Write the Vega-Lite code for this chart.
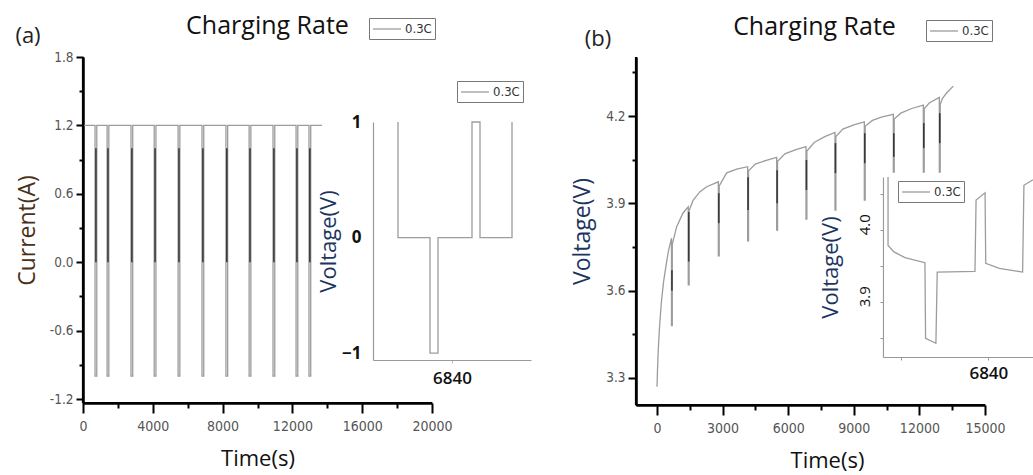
{
  "$schema": "https://vega.github.io/schema/vega-lite/v6.json",
  "width": 1033,
  "height": 475,
  "autosize": {"type": "none"},
  "padding": 0,
  "background": "white",
  "config": {
    "view": {"stroke": null},
    "axis": {"grid": false, "labelFlush": false, "labelOverlap": false, "domainCap": "butt", "domainColor": "#000000", "domainWidth": 2.5, "tickColor": "#000000", "tickWidth": 2},
    "legend": {"symbolType": "M-1,0H3", "symbolStrokeWidth": 1.3, "symbolSize": 196, "labelFont": "Liberation Sans Narrow, Arial Narrow, DejaVu Sans Condensed, sans-serif", "labelFontSize": 13, "labelColor": "#333", "labelOffset": 17, "padding": 3, "strokeColor": "#777", "fillColor": "#fff", "cornerRadius": 0, "title": null}
  },
  "datasets": {
    "aMain": [
      {"k": 0, "t": 0, "i": 1.2},
      {"k": 1, "t": 690, "i": 1.2}, {"k": 2, "t": 690, "i": -1.0}, {"k": 3, "t": 790, "i": -1.0}, {"k": 4, "t": 790, "i": 1.2},
      {"k": 5, "t": 1380, "i": 1.2}, {"k": 6, "t": 1380, "i": -1.0}, {"k": 7, "t": 1480, "i": -1.0}, {"k": 8, "t": 1480, "i": 1.2},
      {"k": 9, "t": 2750, "i": 1.2}, {"k": 10, "t": 2750, "i": -1.0}, {"k": 11, "t": 2850, "i": -1.0}, {"k": 12, "t": 2850, "i": 1.2},
      {"k": 13, "t": 4080, "i": 1.2}, {"k": 14, "t": 4080, "i": -1.0}, {"k": 15, "t": 4180, "i": -1.0}, {"k": 16, "t": 4180, "i": 1.2},
      {"k": 17, "t": 5450, "i": 1.2}, {"k": 18, "t": 5450, "i": -1.0}, {"k": 19, "t": 5550, "i": -1.0}, {"k": 20, "t": 5550, "i": 1.2},
      {"k": 21, "t": 6820, "i": 1.2}, {"k": 22, "t": 6820, "i": -1.0}, {"k": 23, "t": 6920, "i": -1.0}, {"k": 24, "t": 6920, "i": 1.2},
      {"k": 25, "t": 8190, "i": 1.2}, {"k": 26, "t": 8190, "i": -1.0}, {"k": 27, "t": 8290, "i": -1.0}, {"k": 28, "t": 8290, "i": 1.2},
      {"k": 29, "t": 9520, "i": 1.2}, {"k": 30, "t": 9520, "i": -1.0}, {"k": 31, "t": 9620, "i": -1.0}, {"k": 32, "t": 9620, "i": 1.2},
      {"k": 33, "t": 10890, "i": 1.2}, {"k": 34, "t": 10890, "i": -1.0}, {"k": 35, "t": 10990, "i": -1.0}, {"k": 36, "t": 10990, "i": 1.2},
      {"k": 37, "t": 12210, "i": 1.2}, {"k": 38, "t": 12210, "i": -1.0}, {"k": 39, "t": 12310, "i": -1.0}, {"k": 40, "t": 12310, "i": 1.2},
      {"k": 41, "t": 12950, "i": 1.2}, {"k": 42, "t": 12950, "i": -1.0}, {"k": 43, "t": 13050, "i": -1.0}, {"k": 44, "t": 13050, "i": 1.2},
      {"k": 45, "t": 13700, "i": 1.2}
    ],
    "aDark": [
      {"t": 740, "lo": 0, "hi": 1.0}, {"t": 1430, "lo": 0, "hi": 1.0}, {"t": 2800, "lo": 0, "hi": 1.0},
      {"t": 4130, "lo": 0, "hi": 1.0}, {"t": 5500, "lo": 0, "hi": 1.0}, {"t": 6870, "lo": 0, "hi": 1.0},
      {"t": 8240, "lo": 0, "hi": 1.0}, {"t": 9570, "lo": 0, "hi": 1.0}, {"t": 10940, "lo": 0, "hi": 1.0},
      {"t": 12260, "lo": 0, "hi": 1.0}, {"t": 13000, "lo": 0, "hi": 1.0}
    ],
    "aInset": [
      {"k": 0, "t": 6570, "v": 1}, {"k": 1, "t": 6570, "v": 0}, {"k": 2, "t": 6730, "v": 0}, {"k": 3, "t": 6730, "v": -1},
      {"k": 4, "t": 6770, "v": -1}, {"k": 5, "t": 6770, "v": 0}, {"k": 6, "t": 6940, "v": 0}, {"k": 7, "t": 6940, "v": 1},
      {"k": 8, "t": 6980, "v": 1}, {"k": 9, "t": 6980, "v": 0}, {"k": 10, "t": 7140, "v": 0}, {"k": 11, "t": 7140, "v": 1}
    ],
    "bMain": [
      {"k": 0, "t": 0, "v": 3.27}, {"k": 1, "t": 20, "v": 3.32}, {"k": 2, "t": 60, "v": 3.40}, {"k": 3, "t": 120, "v": 3.48},
      {"k": 4, "t": 200, "v": 3.56}, {"k": 5, "t": 300, "v": 3.63}, {"k": 6, "t": 400, "v": 3.68}, {"k": 7, "t": 520, "v": 3.735},
      {"k": 8, "t": 663, "v": 3.78}, {"k": 9, "t": 663, "v": 3.48}, {"k": 10, "t": 700, "v": 3.48}, {"k": 11, "t": 700, "v": 3.76},
      {"k": 12, "t": 900, "v": 3.82}, {"k": 13, "t": 1190, "v": 3.867}, {"k": 14, "t": 1430, "v": 3.888},
      {"k": 15, "t": 1430, "v": 3.62}, {"k": 16, "t": 1470, "v": 3.62}, {"k": 17, "t": 1470, "v": 3.875},
      {"k": 18, "t": 1650, "v": 3.91}, {"k": 19, "t": 1966, "v": 3.94}, {"k": 20, "t": 2272, "v": 3.957}, {"k": 21, "t": 2805, "v": 3.974},
      {"k": 22, "t": 2805, "v": 3.72}, {"k": 23, "t": 2845, "v": 3.72}, {"k": 24, "t": 2845, "v": 3.96},
      {"k": 25, "t": 3186, "v": 4.005}, {"k": 26, "t": 3643, "v": 4.018}, {"k": 27, "t": 4146, "v": 4.026},
      {"k": 28, "t": 4146, "v": 3.771}, {"k": 29, "t": 4186, "v": 3.771}, {"k": 30, "t": 4186, "v": 4.012},
      {"k": 31, "t": 4500, "v": 4.035}, {"k": 32, "t": 5000, "v": 4.048}, {"k": 33, "t": 5473, "v": 4.058},
      {"k": 34, "t": 5473, "v": 3.808}, {"k": 35, "t": 5513, "v": 3.808}, {"k": 36, "t": 5513, "v": 4.045},
      {"k": 37, "t": 5850, "v": 4.07}, {"k": 38, "t": 6350, "v": 4.085}, {"k": 39, "t": 6814, "v": 4.095},
      {"k": 40, "t": 6814, "v": 3.846}, {"k": 41, "t": 6854, "v": 3.846}, {"k": 42, "t": 6854, "v": 4.08},
      {"k": 43, "t": 7200, "v": 4.11}, {"k": 44, "t": 7700, "v": 4.13}, {"k": 45, "t": 8140, "v": 4.144},
      {"k": 46, "t": 8140, "v": 3.877}, {"k": 47, "t": 8180, "v": 3.877}, {"k": 48, "t": 8180, "v": 4.13},
      {"k": 49, "t": 8500, "v": 4.155}, {"k": 50, "t": 9000, "v": 4.17}, {"k": 51, "t": 9481, "v": 4.18},
      {"k": 52, "t": 9481, "v": 3.911}, {"k": 53, "t": 9521, "v": 3.911}, {"k": 54, "t": 9521, "v": 4.165},
      {"k": 55, "t": 9850, "v": 4.185}, {"k": 56, "t": 10300, "v": 4.197}, {"k": 57, "t": 10808, "v": 4.206},
      {"k": 58, "t": 10808, "v": 3.96}, {"k": 59, "t": 10848, "v": 3.96}, {"k": 60, "t": 10848, "v": 4.19},
      {"k": 61, "t": 11150, "v": 4.21}, {"k": 62, "t": 11650, "v": 4.226}, {"k": 63, "t": 12180, "v": 4.238},
      {"k": 64, "t": 12180, "v": 3.96}, {"k": 65, "t": 12220, "v": 3.96}, {"k": 66, "t": 12220, "v": 4.225},
      {"k": 67, "t": 12450, "v": 4.245}, {"k": 68, "t": 12911, "v": 4.264},
      {"k": 69, "t": 12911, "v": 3.96}, {"k": 70, "t": 12951, "v": 3.96}, {"k": 71, "t": 12951, "v": 4.24},
      {"k": 72, "t": 13050, "v": 4.26}, {"k": 73, "t": 13250, "v": 4.28}, {"k": 74, "t": 13550, "v": 4.303}
    ],
    "bDark": [
      {"t": 683, "lo": 3.60, "hi": 3.67}, {"t": 1450, "lo": 3.70, "hi": 3.87}, {"t": 2825, "lo": 3.832, "hi": 3.935},
      {"t": 4166, "lo": 3.877, "hi": 3.99}, {"t": 5493, "lo": 3.90, "hi": 4.014}, {"t": 6834, "lo": 3.946, "hi": 4.049},
      {"t": 8160, "lo": 4.004, "hi": 4.107}, {"t": 9501, "lo": 4.038, "hi": 4.141}, {"t": 10828, "lo": 4.06, "hi": 4.141},
      {"t": 12200, "lo": 4.09, "hi": 4.176}, {"t": 12931, "lo": 4.107, "hi": 4.21}
    ],
    "bInset": [
      {"k": 0, "t": 6794.3, "v": 4.074}, {"k": 1, "t": 6794.3, "v": 3.979}, {"k": 2, "t": 6797, "v": 3.97},
      {"k": 3, "t": 6802, "v": 3.962}, {"k": 4, "t": 6811.1, "v": 3.955}, {"k": 5, "t": 6811.4, "v": 3.85},
      {"k": 6, "t": 6816.1, "v": 3.843}, {"k": 7, "t": 6816.7, "v": 3.942}, {"k": 8, "t": 6833.9, "v": 3.943},
      {"k": 9, "t": 6834.4, "v": 4.042}, {"k": 10, "t": 6838.5, "v": 4.052}, {"k": 11, "t": 6838.8, "v": 3.954},
      {"k": 12, "t": 6845, "v": 3.947}, {"k": 13, "t": 6855.6, "v": 3.942}, {"k": 14, "t": 6856.2, "v": 4.0625},
      {"k": 15, "t": 6860.3, "v": 4.07}
    ]
  },
  "resolve": {
    "scale": {"x": "independent", "y": "independent", "color": "independent"},
    "axis": {"x": "independent", "y": "independent"},
    "legend": {"color": "independent"}
  },
  "layer": [
    {
      "data": {"name": "aMain"},
      "mark": {"type": "line", "strokeWidth": 1.3},
      "encoding": {
        "x": {"field": "t", "type": "quantitative",
          "scale": {"domain": [0, 20000], "range": [83, 432], "nice": false, "zero": false},
          "axis": {"orient": "bottom", "offset": -72, "values": [0, 2000, 4000, 6000, 8000, 10000, 12000, 14000, 16000, 18000, 20000], "format": "d",
            "labelExpr": "datum.value % 4000 === 0 ? datum.label : ''",
            "tickSize": {"condition": {"test": "datum.value % 4000 === 0", "value": 10}, "value": 5},
            "domainColor": "#000000", "domainWidth": 2.5, "tickColor": "#000000", "tickWidth": 2,
            "labelFont": "Liberation Sans Narrow, Arial Narrow, DejaVu Sans Condensed, sans-serif", "labelFontSize": 14, "labelColor": "#555", "labelPadding": 6,
            "title": "Time(s)", "titleFont": "Open Sans, Noto Sans, sans-serif", "titleFontSize": 22, "titleFontWeight": "normal", "titleColor": "#111", "titlePadding": 15}},
        "y": {"field": "i", "type": "quantitative",
          "scale": {"domain": [-1.235, 1.8], "range": [403, 57], "nice": false, "zero": false},
          "axis": {"orient": "left", "offset": -83, "values": [-1.2, -0.9, -0.6, -0.3, 0, 0.3, 0.6, 0.9, 1.2, 1.5, 1.8],
            "labelExpr": "round(datum.value*10) % 6 === 0 ? (datum.value < 0 ? '-' : '') + format(abs(datum.value), '.1f') : ''",
            "tickSize": {"condition": {"test": "round(datum.value*10) % 6 === 0", "value": 7}, "value": 4},
            "domainColor": "#000000", "domainWidth": 2.5, "tickColor": "#000000", "tickWidth": 2,
            "labelFont": "Liberation Sans Narrow, Arial Narrow, DejaVu Sans Condensed, sans-serif", "labelFontSize": 13.5, "labelColor": "#555", "labelPadding": 3,
            "title": "Current(A)", "titleFont": "Open Sans, Noto Sans, sans-serif", "titleFontSize": 23, "titleFontWeight": "normal", "titleColor": "#4a3018", "titlePadding": 10}},
        "order": {"field": "k", "type": "quantitative"},
        "color": {"datum": "0.3C", "type": "nominal", "scale": {"range": ["#9c9c9c"]},
          "legend": {"orient": "none", "legendX": 369, "legendY": 18, "title": null}}
      }
    },
    {
      "data": {"name": "aDark"},
      "mark": {"type": "rule", "color": "#3a3a3a", "strokeWidth": 1.6},
      "encoding": {
        "x": {"field": "t", "type": "quantitative", "scale": {"domain": [0, 20000], "range": [83, 432], "nice": false, "zero": false}, "axis": null},
        "y": {"field": "lo", "type": "quantitative", "scale": {"domain": [-1.235, 1.8], "range": [403, 57], "nice": false, "zero": false}, "axis": null},
        "y2": {"field": "hi"}
      }
    },
    {
      "data": {"values": [{"line": "x axis (a)"}]},
      "mark": {"type": "rule", "color": "#000000", "strokeWidth": 2.2},
      "encoding": {
        "x": {"datum": 0, "type": "quantitative", "scale": {"domain": [0, 20000], "range": [83, 432], "nice": false, "zero": false}, "axis": null},
        "x2": {"datum": 20000},
        "y": {"datum": -1.235, "type": "quantitative", "scale": {"domain": [-1.235, 1.8], "range": [403, 57], "nice": false, "zero": false}, "axis": null}
      }
    },
    {
      "data": {"values": [{"line": "y axis (a)"}]},
      "mark": {"type": "rule", "color": "#000000", "strokeWidth": 2.2},
      "encoding": {
        "x": {"datum": 0, "type": "quantitative", "scale": {"domain": [0, 20000], "range": [83, 432], "nice": false, "zero": false}, "axis": null},
        "y": {"datum": -1.235, "type": "quantitative", "scale": {"domain": [-1.235, 1.8], "range": [403, 57], "nice": false, "zero": false}, "axis": null},
        "y2": {"datum": 1.8}
      }
    },
    {
      "data": {"values": [{"label": "(a)"}]},
      "mark": {"type": "text", "font": "Open Sans, Noto Sans, sans-serif", "fontSize": 22, "color": "#222", "align": "center", "baseline": "alphabetic"},
      "encoding": {
        "x": {"datum": -3152, "type": "quantitative", "scale": {"domain": [0, 20000], "range": [83, 432], "nice": false, "zero": false}, "axis": null},
        "y": {"datum": 1.92, "type": "quantitative", "scale": {"domain": [-1.235, 1.8], "range": [403, 57], "nice": false, "zero": false}, "axis": null},
        "text": {"field": "label"}
      }
    },
    {
      "data": {"values": [{"label": "Charging Rate"}]},
      "mark": {"type": "text", "font": "Open Sans, Noto Sans, sans-serif", "fontSize": 25, "color": "#111", "align": "center", "baseline": "alphabetic"},
      "encoding": {
        "x": {"datum": 10573, "type": "quantitative", "scale": {"domain": [0, 20000], "range": [83, 432], "nice": false, "zero": false}, "axis": null},
        "y": {"datum": 2.0, "type": "quantitative", "scale": {"domain": [-1.235, 1.8], "range": [403, 57], "nice": false, "zero": false}, "axis": null},
        "text": {"field": "label"}
      }
    },
    {
      "data": {"name": "aInset"},
      "mark": {"type": "line", "strokeWidth": 1.3},
      "encoding": {
        "x": {"field": "t", "type": "quantitative",
          "scale": {"domain": [6445, 7235], "range": [373, 531], "nice": false, "zero": false},
          "axis": {"orient": "bottom", "offset": -115, "values": [6840], "format": "d", "tickSize": 3, "tickColor": "#bbbbbb", "tickWidth": 1,
            "domainColor": "#999999", "domainWidth": 1.2,
            "labelFont": "Open Sans, Noto Sans, sans-serif", "labelFontSize": 17, "labelFontWeight": 600, "labelColor": "#111", "labelPadding": 7,
            "title": null}},
        "y": {"field": "v", "type": "quantitative",
          "scale": {"domain": [-1.06, 1], "range": [360, 122], "nice": false, "zero": false},
          "axis": {"orient": "left", "offset": -373, "values": [-1, 0, 1], "labelExpr": "datum.value > 0.5 ? '1' : (datum.value < -0.5 ? '\u22121' : '0')", "tickSize": 0, "tickWidth": 1, "tickColor": "#999999",
            "domainColor": "#999999", "domainWidth": 1.2,
            "labelFont": "Open Sans, Noto Sans, sans-serif", "labelFontSize": 17, "labelFontWeight": 700, "labelColor": "#111", "labelPadding": 12,
            "title": "Voltage(V)", "titleFont": "Open Sans, Noto Sans, sans-serif", "titleFontSize": 22, "titleFontWeight": "normal", "titleColor": "#1c3560", "titlePadding": 1}},
        "order": {"field": "k", "type": "quantitative"},
        "color": {"datum": "0.3C", "type": "nominal", "scale": {"range": ["#9c9c9c"]},
          "legend": {"orient": "none", "legendX": 457, "legendY": 81, "title": null}}
      }
    },
    {
      "data": {"name": "bMain"},
      "mark": {"type": "line", "strokeWidth": 1.3},
      "encoding": {
        "x": {"field": "t", "type": "quantitative",
          "scale": {"domain": [-960, 15000], "range": [636, 985], "nice": false, "zero": false},
          "axis": {"orient": "bottom", "offset": -70, "values": [0, 1500, 3000, 4500, 6000, 7500, 9000, 10500, 12000, 13500, 15000], "format": "d",
            "labelExpr": "datum.value % 3000 === 0 ? datum.label : ''",
            "tickSize": {"condition": {"test": "datum.value % 3000 === 0", "value": 10}, "value": 5},
            "domainColor": "#000000", "domainWidth": 2.5, "tickColor": "#000000", "tickWidth": 2,
            "labelFont": "Liberation Sans Narrow, Arial Narrow, DejaVu Sans Condensed, sans-serif", "labelFontSize": 14, "labelColor": "#555", "labelPadding": 6,
            "title": "Time(s)", "titleX": 827, "titleFont": "Open Sans, Noto Sans, sans-serif", "titleFontSize": 22, "titleFontWeight": "normal", "titleColor": "#111", "titlePadding": 15}},
        "y": {"field": "v", "type": "quantitative",
          "scale": {"domain": [3.207, 4.403], "range": [405, 57], "nice": false, "zero": false},
          "axis": {"orient": "left", "offset": -636, "values": [3.3, 3.45, 3.6, 3.75, 3.9, 4.05, 4.2, 4.35],
            "labelExpr": "round(datum.value*100) % 30 === 0 ? format(datum.value, '.1f') : ''",
            "tickSize": {"condition": {"test": "round(datum.value*100) % 30 === 0", "value": 8}, "value": 4},
            "domainColor": "#000000", "domainWidth": 2.5, "tickColor": "#000000", "tickWidth": 2,
            "labelFont": "Liberation Sans Narrow, Arial Narrow, DejaVu Sans Condensed, sans-serif", "labelFontSize": 13.5, "labelColor": "#555", "labelPadding": 3,
            "title": "Voltage(V)", "titleFont": "Open Sans, Noto Sans, sans-serif", "titleFontSize": 23, "titleFontWeight": "normal", "titleColor": "#1c3560", "titlePadding": 11}},
        "order": {"field": "k", "type": "quantitative"},
        "color": {"datum": "0.3C", "type": "nominal", "scale": {"range": ["#9c9c9c"]},
          "legend": {"orient": "none", "legendX": 926, "legendY": 20, "title": null}}
      }
    },
    {
      "data": {"name": "bDark"},
      "mark": {"type": "rule", "color": "#3a3a3a", "strokeWidth": 1.6},
      "encoding": {
        "x": {"field": "t", "type": "quantitative", "scale": {"domain": [-960, 15000], "range": [636, 985], "nice": false, "zero": false}, "axis": null},
        "y": {"field": "lo", "type": "quantitative", "scale": {"domain": [3.207, 4.403], "range": [405, 57], "nice": false, "zero": false}, "axis": null},
        "y2": {"field": "hi"}
      }
    },
    {
      "data": {"values": [{"line": "x axis (b)"}]},
      "mark": {"type": "rule", "color": "#000000", "strokeWidth": 2.2},
      "encoding": {
        "x": {"datum": -960, "type": "quantitative", "scale": {"domain": [-960, 15000], "range": [636, 985], "nice": false, "zero": false}, "axis": null},
        "x2": {"datum": 15000},
        "y": {"datum": 3.207, "type": "quantitative", "scale": {"domain": [3.207, 4.403], "range": [405, 57], "nice": false, "zero": false}, "axis": null}
      }
    },
    {
      "data": {"values": [{"line": "y axis (b)"}]},
      "mark": {"type": "rule", "color": "#000000", "strokeWidth": 2.2},
      "encoding": {
        "x": {"datum": -960, "type": "quantitative", "scale": {"domain": [-960, 15000], "range": [636, 985], "nice": false, "zero": false}, "axis": null},
        "y": {"datum": 3.207, "type": "quantitative", "scale": {"domain": [3.207, 4.403], "range": [405, 57], "nice": false, "zero": false}, "axis": null},
        "y2": {"datum": 4.403}
      }
    },
    {
      "data": {"values": [{"label": "(b)"}]},
      "mark": {"type": "text", "font": "Open Sans, Noto Sans, sans-serif", "fontSize": 22, "color": "#222", "align": "center", "baseline": "alphabetic"},
      "encoding": {
        "x": {"datum": -2698, "type": "quantitative", "scale": {"domain": [-960, 15000], "range": [636, 985], "nice": false, "zero": false}, "axis": null},
        "y": {"datum": 4.44, "type": "quantitative", "scale": {"domain": [3.207, 4.403], "range": [405, 57], "nice": false, "zero": false}, "axis": null},
        "text": {"field": "label"}
      }
    },
    {
      "data": {"values": [{"label": "Charging Rate"}]},
      "mark": {"type": "text", "font": "Open Sans, Noto Sans, sans-serif", "fontSize": 25, "color": "#111", "align": "center", "baseline": "alphabetic"},
      "encoding": {
        "x": {"datum": 7203, "type": "quantitative", "scale": {"domain": [-960, 15000], "range": [636, 985], "nice": false, "zero": false}, "axis": null},
        "y": {"datum": 4.479, "type": "quantitative", "scale": {"domain": [3.207, 4.403], "range": [405, 57], "nice": false, "zero": false}, "axis": null},
        "text": {"field": "label"}
      }
    },
    {
      "data": {"values": [{"panel": "inset b"}]},
      "mark": {"type": "rect", "color": "white"},
      "encoding": {
        "x": {"datum": 6792.6, "type": "quantitative", "scale": {"domain": [6792, 6915], "range": [883, 1153], "nice": false, "zero": false}, "axis": null},
        "x2": {"datum": 6915},
        "y": {"datum": 3.826, "type": "quantitative", "scale": {"domain": [3.824, 4.074], "range": [357, 177], "nice": false, "zero": false}, "axis": null},
        "y2": {"datum": 4.08}
      }
    },
    {
      "data": {"name": "bInset"},
      "mark": {"type": "line", "strokeWidth": 1.3},
      "encoding": {
        "x": {"field": "t", "type": "quantitative",
          "scale": {"domain": [6792, 6915], "range": [883, 1153], "nice": false, "zero": false},
          "axis": {"orient": "bottom", "offset": -118, "values": [6800, 6840], "format": "d",
            "labelExpr": "datum.value === 6840 ? datum.label : ''", "tickSize": 3, "tickColor": "#999999", "tickWidth": 1,
            "domainColor": "#999999", "domainWidth": 1.2,
            "labelFont": "Open Sans, Noto Sans, sans-serif", "labelFontSize": 17, "labelFontWeight": 600, "labelColor": "#111", "labelPadding": 5,
            "title": null}},
        "y": {"field": "v", "type": "quantitative",
          "scale": {"domain": [3.824, 4.074], "range": [357, 177], "nice": false, "zero": false},
          "axis": {"orient": "left", "offset": -883, "values": [3.85, 3.9, 3.95, 4.0, 4.05],
            "labelExpr": "round(datum.value*100) % 10 === 0 ? format(datum.value, '.1f') : ''",
            "tickSize": 3, "tickColor": "#999999", "tickWidth": 1, "domainColor": "#999999", "domainWidth": 1.2,
            "labelAngle": -90, "labelOffset": -6,
            "labelFont": "Open Sans, Noto Sans, sans-serif", "labelFontSize": 15, "labelColor": "#111", "labelPadding": 8,
            "title": "Voltage(V)", "titleFont": "Open Sans, Noto Sans, sans-serif", "titleFontSize": 22, "titleFontWeight": "normal", "titleColor": "#1c3560", "titlePadding": 15}},
        "order": {"field": "k", "type": "quantitative"},
        "color": {"datum": "0.3C", "type": "nominal", "scale": {"range": ["#9c9c9c"]},
          "legend": {"orient": "none", "legendX": 898, "legendY": 181, "title": null}}
      }
    }
  ]
}
